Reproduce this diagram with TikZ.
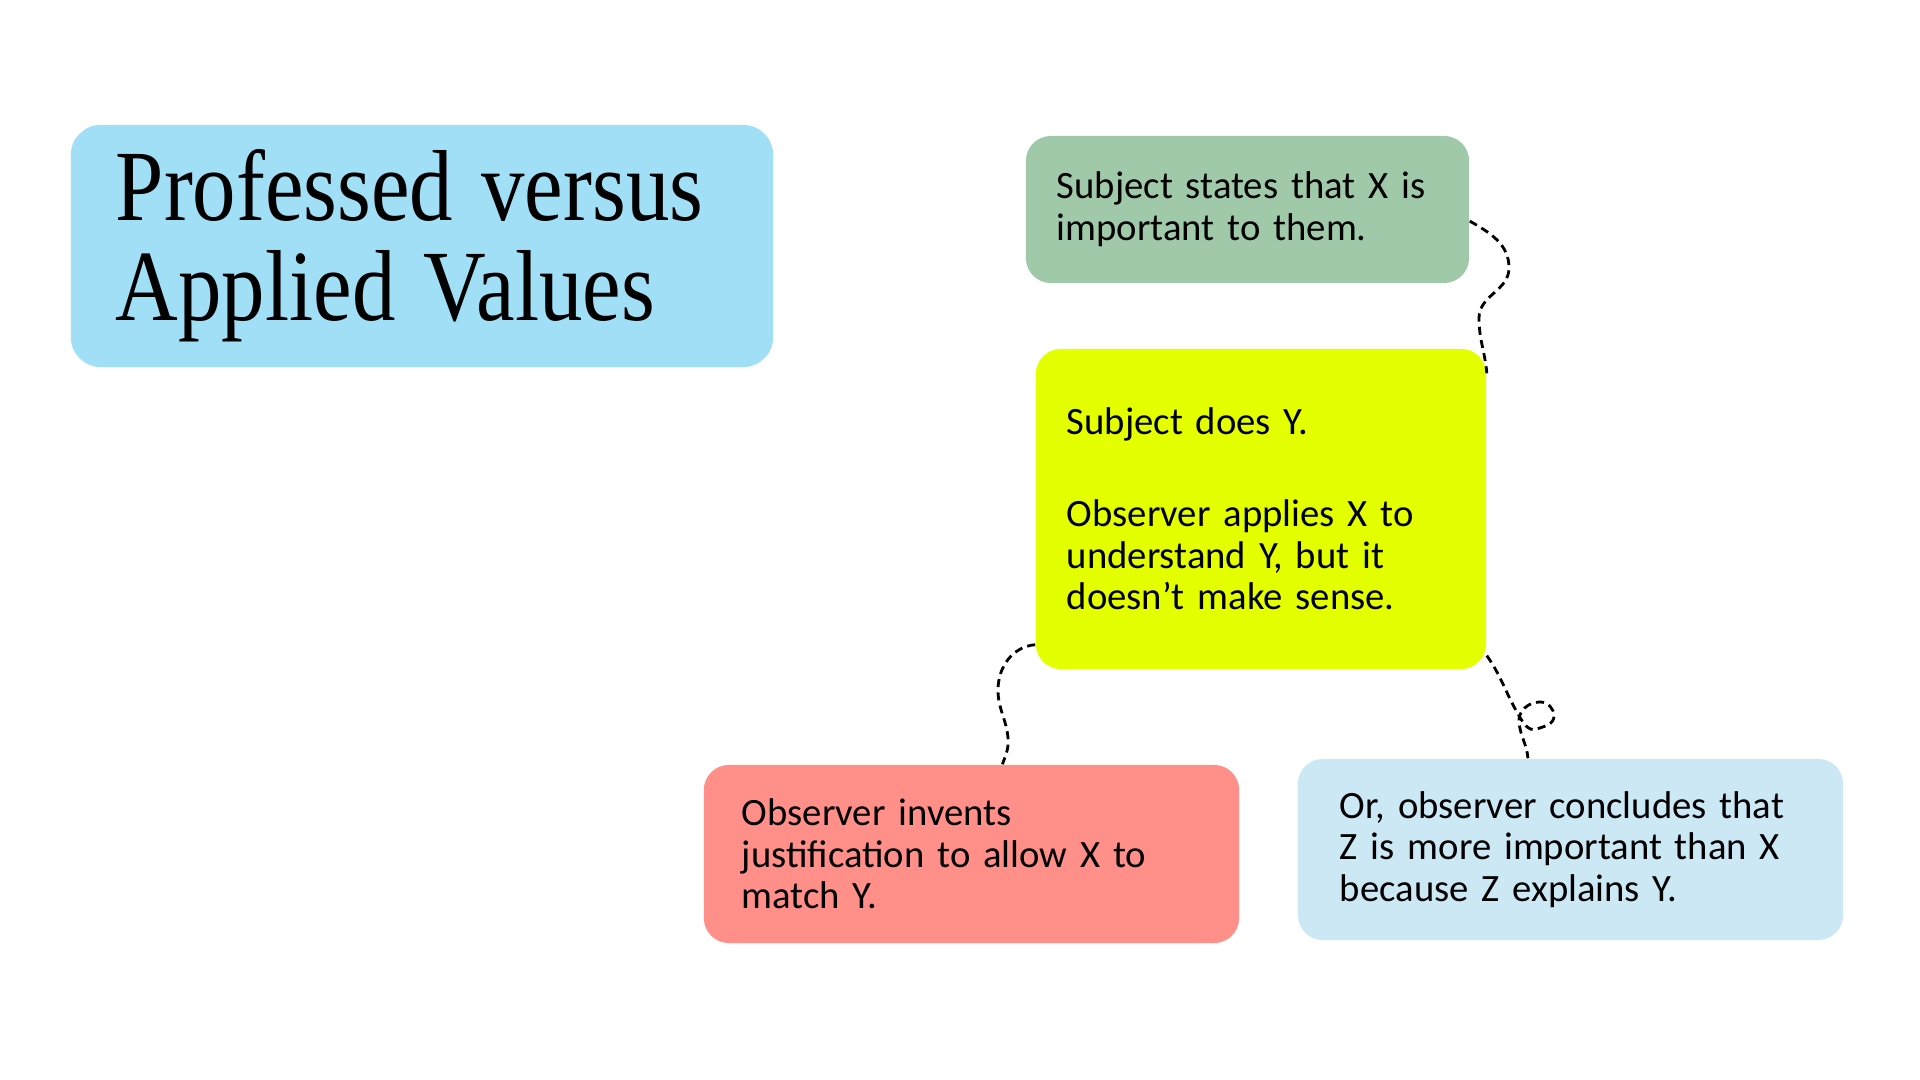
\documentclass[tikz,border=0pt]{standalone}
\usepackage{fontspec}
\setmainfont{Carlito}
\newfontfamily\titlefont[FakeStretch=0.86]{Liberation Serif}
\usepackage{xcolor}
\definecolor{skyc}{RGB}{160,223,246}
\definecolor{sagec}{RGB}{159,201,169}
\definecolor{limec}{RGB}{228,255,0}
\definecolor{salmonc}{RGB}{255,143,136}
\definecolor{palec}{RGB}{203,232,244}
\tikzset{
  card/.style={rectangle,rounded corners=0.25cm,inner ysep=0pt,align=left,
    font=\fontsize{11}{11.85}\selectfont},
  % hand-drawn looking dashed links between the cards
  wig/.style={dash pattern=on 2.3pt off 1.5pt,line width=0.8pt,black},
}

\begin{document}
\begin{tikzpicture}[x=0.01cm,y=-0.01cm]
  \fill[white] (0,0) rectangle (1920,1080);
  \useasboundingbox (0,0) rectangle (1920,1080);
  \node[card,fill=skyc,rounded corners=0.3cm,minimum width=7.02cm,minimum height=2.42cm,
    inner xsep=0.45cm,text width=6.12cm,font=\titlefont\fontsize{28.7}{28.5}\selectfont]
    (title) at (422,246) {Professed\hspace{8pt}versus\\Applied\hspace{8pt}Values};
  \node[card,fill=sagec,minimum width=4.43cm,minimum height=1.47cm,inner xsep=0.31cm,text width=3.81cm]
    (states) at (1247.5,209.5) {Subject states that X is\\important to them.};
  \node[card,fill=limec,minimum width=4.5cm,minimum height=3.2cm,inner xsep=0.31cm,text width=3.88cm]
    (does) at (1261,509) {Subject does Y.\\[14.3pt]Observer applies X to\\understand Y, but it\\doesn’t make sense.};
  \node[card,fill=salmonc,minimum width=5.35cm,minimum height=1.78cm,inner xsep=0.38cm,text width=4.59cm]
    (invent) at (971.5,854) {Observer invents\\justification to allow X to\\match Y.};
  \node[card,fill=palec,minimum width=5.45cm,minimum height=1.81cm,inner xsep=0.42cm,text width=4.61cm]
    (concl) at (1570.5,849.5) {Or, observer concludes that\\Z is more important than X\\because Z explains Y.};
  \draw[wig] (states.-3) to[out=-30,in=90] (1509,268) to[out=-90,in=90] (1479,318)
    to[out=-90,in=95] (does.31);
  \draw[wig] (does.211) to[out=185,in=90] (998,690) to[out=-90,in=95] (1008,738)
    to[out=-85,in=70] (invent.71);
  % the right link makes a small loop on its way down
  \draw[wig] (does.-33) to[out=-55,in=120] (1518,714) to[out=-60,in=200] (1537,729)
    to[out=20,in=-90] (1554,716) to[out=90,in=0] (1540,702) to[out=180,in=95] (1519,722)
    to[out=-85,in=95] (concl.115);
\end{tikzpicture}
\end{document}
